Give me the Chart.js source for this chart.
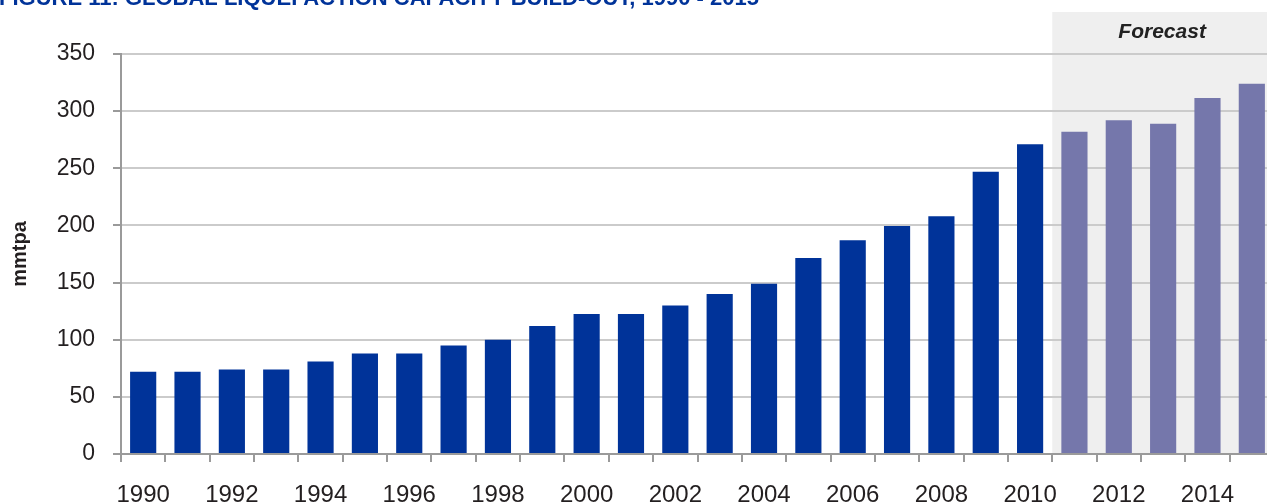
<!DOCTYPE html>
<html>
<head>
<meta charset="utf-8">
<title>Global liquefaction capacity build-out</title>
<script src="https://cdn.jsdelivr.net/npm/chart.js@4.4.1/dist/chart.umd.min.js"></script>
<style>
    html, body { margin: 0; padding: 0; background: #fff; overflow: hidden; }
    #wrap { position: relative; width: 1274px; height: 504px; }
</style>
</head>
<body>
<div id="wrap"><canvas id="capacityChart" width="1274" height="504"></canvas></div>
<script>
const years = ['1990', '1991', '1992', '1993', '1994', '1995', '1996', '1997', '1998', '1999',
    '2000', '2001', '2002', '2003', '2004', '2005', '2006', '2007', '2008', '2009',
    '2010', '2011', '2012', '2013', '2014', '2015'];
const capacity = [72, 72, 74, 74, 81, 88, 88, 95, 100, 112,
    122.5, 122.5, 130, 140, 149, 171.5, 187, 199.5, 208, 247,
    271, 282, 292, 289, 311.5, 324];
const firstForecastYear = '2011';
const yTicks = [0, 50, 100, 150, 200, 250, 300, 350];

const figureTitle = 'FIGURE 11: GLOBAL LIQUEFACTION CAPACITY BUILD-OUT, 1990 - 2015';
const forecastLabel = 'Forecast';

const HIST_COLOR = '#003399';
const FORECAST_COLOR = '#7577ab';
const TEXT_COLOR = '#231f20';
const AXIS_COLOR = '#9a9a9a';
const FONT = '"Liberation Sans", Arial, Helvetica, sans-serif';

const forecastStart = years.indexOf(firstForecastYear);
const barColors = years.map((y, i) => i >= forecastStart ? FORECAST_COLOR : HIST_COLOR);

// grey panel behind the forecast years, plus the figure caption at the top
const forecastPanel = {
    id: 'forecastPanel',
    beforeDraw: function (chart) {
        const ctx = chart.ctx;
        const x = chart.scales.x;
        const half = (x.getPixelForValue(1) - x.getPixelForValue(0)) / 2;
        const left = x.getPixelForValue(forecastStart) - half;
        const right = chart.width;
        const top = 12;
        ctx.save();
        ctx.fillStyle = '#efefef';
        ctx.fillRect(left, top, right - left, chart.chartArea.bottom - top);

        ctx.fillStyle = '#222';
        ctx.font = 'italic bold 21px ' + FONT;
        ctx.textAlign = 'center';
        ctx.textBaseline = 'middle';
        ctx.fillText(forecastLabel, (left + right) / 2 - 1, 32);

        ctx.fillStyle = HIST_COLOR;
        ctx.font = 'bold 22px ' + FONT;
        ctx.textAlign = 'left';
        ctx.textBaseline = 'alphabetic';
        ctx.fillText(figureTitle, -1, 5);
        ctx.restore();
    }
};

new Chart(document.getElementById('capacityChart'), {
    type: 'bar',
    data: {
        labels: years,
        datasets: [{
            label: 'mmtpa',
            data: capacity,
            backgroundColor: barColors,
            borderWidth: 0,
            barPercentage: 0.59,
            categoryPercentage: 1
        }]
    },
    options: {
        responsive: false,
        animation: false,
        layout: { padding: { top: 54, left: 0, right: 0, bottom: 0 } },
        plugins: {
            legend: { display: false },
            tooltip: { enabled: false }
        },
        scales: {
            x: {
                grid: {
                    offset: true,
                    drawOnChartArea: false,
                    tickLength: 8,
                    tickColor: AXIS_COLOR,
                    lineWidth: 2
                },
                border: { color: AXIS_COLOR, width: 2 },
                ticks: {
                    autoSkip: false,
                    maxRotation: 0,
                    padding: 19,
                    color: TEXT_COLOR,
                    font: { family: FONT, size: 24 },
                    callback: function (value, index) {
                        return index % 2 === 0 ? years[index] : '';
                    }
                },
                afterFit: function (scale) { scale.height = 50; }
            },
            y: {
                min: 0,
                max: 350,
                afterBuildTicks: function (scale) {
                    scale.ticks = yTicks.map(v => ({ value: v }));
                },
                grid: {
                    color: '#cbcbcb',
                    lineWidth: 2,
                    tickLength: 8,
                    tickColor: AXIS_COLOR
                },
                border: { color: AXIS_COLOR, width: 2 },
                ticks: {
                    padding: 18,
                    color: TEXT_COLOR,
                    font: { family: FONT, size: 23 }
                },
                title: {
                    display: true,
                    text: 'mmtpa',
                    color: TEXT_COLOR,
                    font: { family: FONT, size: 20, weight: 'bold' },
                    padding: { top: 8, bottom: 0 }
                },
                afterFit: function (scale) { scale.width = 121; }
            }
        }
    },
    plugins: [forecastPanel]
});
</script>
</body>
</html>
